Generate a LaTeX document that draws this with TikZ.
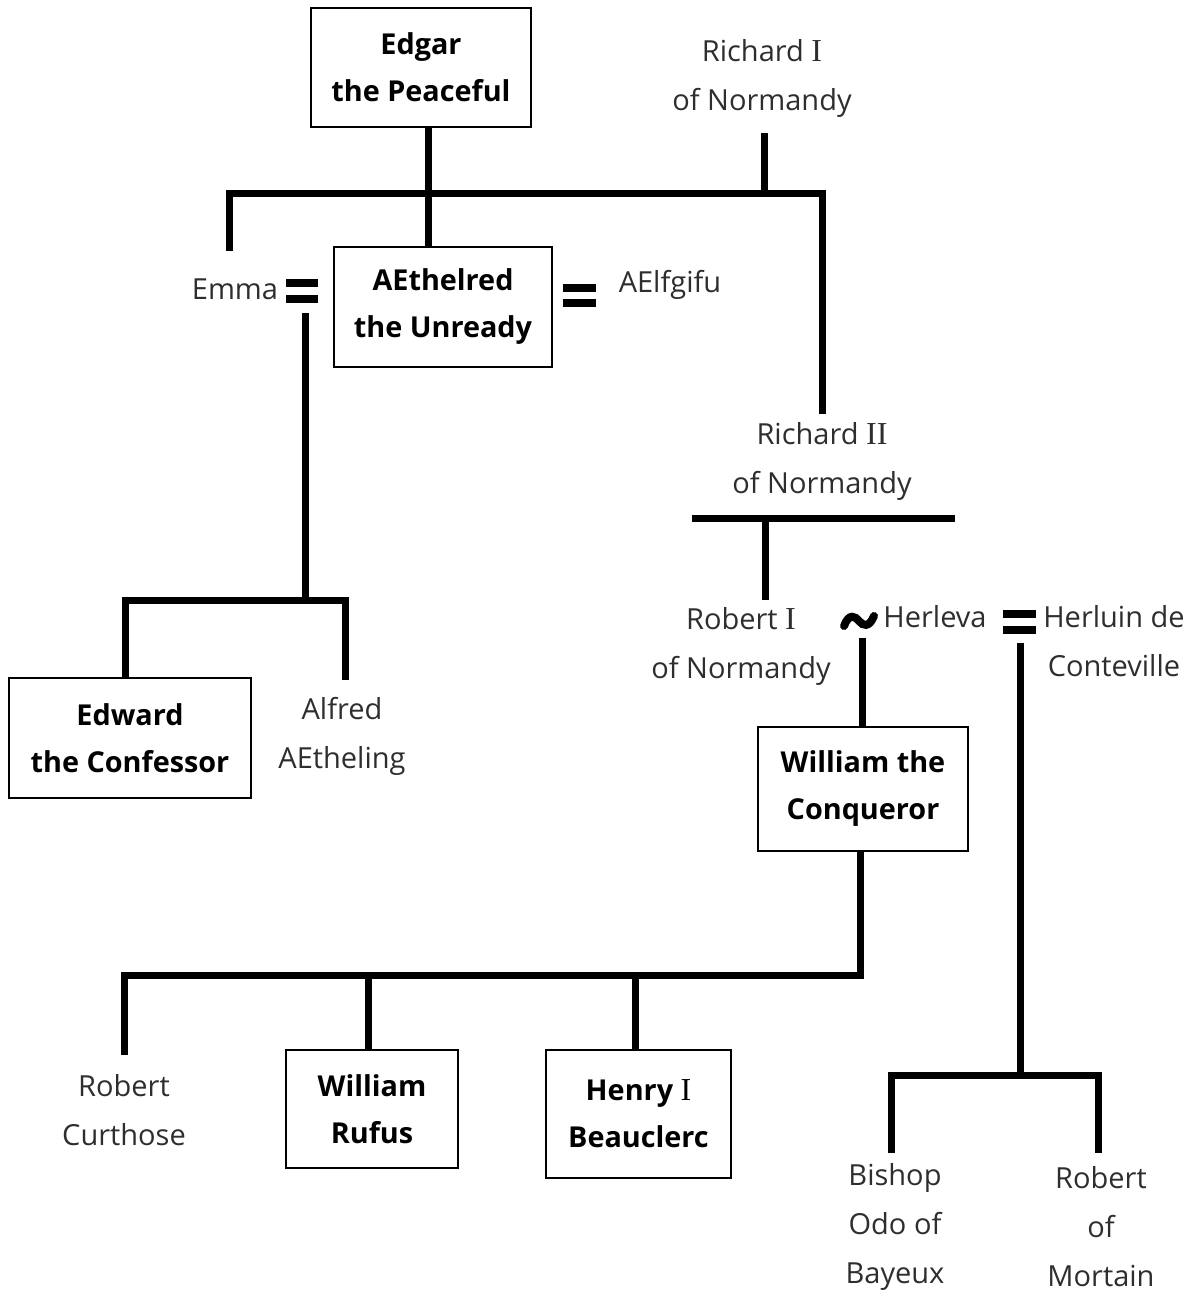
\documentclass[tikz,border=0pt]{standalone}
\usepackage{fontspec}
\setmainfont{Open Sans}
\newfontfamily\numfont{Liberation Serif}
\newcommand\rn[1]{{\numfont\mdseries\fontsize{16}{24}\selectfont #1}}

\tikzset{
  person/.style={draw, line width=1pt, align=center, inner sep=0pt,
    font=\bfseries\fontsize{14.4}{23.5}\selectfont},
  kin/.style={align=center, inner sep=0pt, text=black!82,
    font=\fontsize{14.5}{24.5}\selectfont},
  line/.style={line width=3.5pt},
  bar/.style={line width=4pt}
}

\begin{document}
\begin{tikzpicture}[x=0.5pt,y=-0.5pt]
  \useasboundingbox (0,0) rectangle (1198,1298);

  % Boxed kings
  \node[person, minimum width=110pt, minimum height=59.5pt] (edgar) at (421,67.5) {Edgar\\the Peaceful};
  \node[person, minimum width=109pt, minimum height=60pt] (aethelred) at (443,307) {AEthelred\\the Unready};
  \node[person, minimum width=121pt, minimum height=60pt] (edward) at (130,738) {Edward\\the Confessor};
  \node[person, minimum width=105pt, minimum height=62pt] (william) at (863,789) {William the\\Conqueror};
  \node[person, minimum width=86pt, minimum height=59pt] (rufus) at (372,1109) {William\\Rufus};
  \node[person, minimum width=92.5pt, minimum height=64pt] (henry) at (638.5,1114) {Henry \rn{I}\\Beauclerc};

  % Other people
  \node[kin] (richardi) at (762,78) {Richard \rn{I}\\of Normandy};
  \node[kin] (emma) at (235,289) {Emma};
  \node[kin] (aelfgifu) at (670,285) {AElfgifu};
  \node[kin] (richardii) at (822,461) {Richard \rn{II}\\of Normandy};
  \node[kin] (roberti) at (741,646) {Robert \rn{I}\\of Normandy};
  \node[kin] (herleva) at (935,617) {Herleva};
  \node[kin] (herluin) at (1114,641) {Herluin de\\Conteville};
  \node[kin] (alfred) at (342,736) {Alfred\\AEtheling};
  \node[kin] (curthose) at (124,1110) {Robert\\Curthose};
  \node[kin] (odo) at (895,1227) {Bishop\\Odo of\\Bayeux};
  \node[kin] (mortain) at (1101,1227) {Robert\\of\\Mortain};

  % Junction points
  \coordinate (topmid) at (428,193);
  \coordinate (topleft) at (229,193);
  \coordinate (topright) at (822,193);
  \coordinate (emmatop) at (229,251);
  \coordinate (r1bot) at (764,133);
  \coordinate (r2top) at (822,414);
  \coordinate (emmadown) at (305,313);
  \coordinate (emmakids) at (305,600);
  \coordinate (alfredtop) at (345,680);
  \coordinate (r2bar) at (765,518);
  \coordinate (robtop) at (765,600);
  \coordinate (herlevadown) at (862,638);
  \coordinate (wkids) at (860,975);
  \coordinate (curthosetop) at (124,1055);
  \coordinate (herluindown) at (1020,643);
  \coordinate (hkids) at (1020,1075);
  \coordinate (odotop) at (891,1153);
  \coordinate (mortaintop) at (1098,1153);

  % Children of Edgar and Richard I
  \draw[line] (edgar.south -| topmid) -- (aethelred.north -| topmid);
  \draw[line] (emmatop) -- (topleft) -- (topright) -- (r2top);
  \draw[line] (r1bot) -- (r1bot |- topmid);

  % Marriages of AEthelred
  \draw[bar] (286,283) -- (318,283) (286,299) -- (318,299);
  \draw[bar] (563,288) -- (596,288) (563,303) -- (596,303);

  % Children of Emma
  \draw[line] (emmadown) -- (emmakids);
  \draw[line] (edward.north -| 125,0) -- (125,600) -- (345,600) -- (alfredtop);

  % Richard II to Robert I
  \draw[line] (692,518) -- (955,518);
  \draw[line] (r2bar) -- (robtop);

  % Robert I and Herleva
  \draw[line width=4pt, line cap=round]
    (844,626) .. controls (849,613) and (855,616) .. (859,621)
    .. controls (863,626) and (869,628) .. (874,616);
  \draw[line] (herlevadown) -- (william.north -| herlevadown);

  % Herleva and Herluin
  \draw[bar] (1003,614) -- (1036,614) (1003,630) -- (1036,630);
  \draw[line] (herluindown) -- (hkids);
  \draw[line] (odotop) -- (891,1075) -- (1098,1075) -- (mortaintop);

  % Children of William
  \draw[line] (william.south -| wkids) -- (wkids) -- (curthosetop |- wkids) -- (curthosetop);
  \draw[line] (368,975) -- (rufus.north -| 368,0);
  \draw[line] (635,975) -- (henry.north -| 635,0);

\end{tikzpicture}
\end{document}
